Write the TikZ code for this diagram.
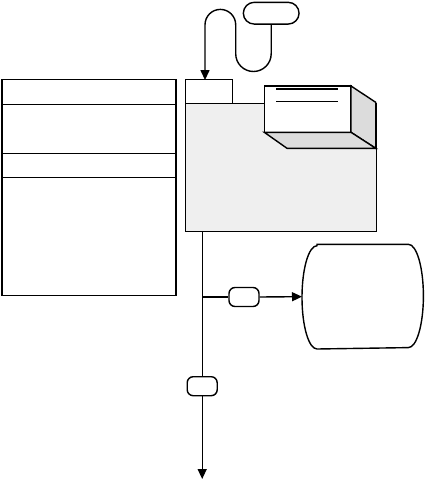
\documentclass[tikz,border=0pt]{standalone}
\usepackage{tikz}
\usetikzlibrary{arrows.meta,calc,positioning}
\definecolor{panel}{HTML}{EFEFEF}
\definecolor{shade}{HTML}{DCDCDC}

\begin{document}
\begin{tikzpicture}[>={Triangle[length=10pt,width=9pt]},x=1pt,y=-1pt,line width=1.4pt,
    frame/.style={draw,inner sep=0pt,outer sep=0pt,anchor=north west},
    tag/.style={draw,fill=white,rounded corners=6pt,inner sep=0pt,minimum width=30pt,minimum height=19pt}]
        \useasboundingbox (0,0) rectangle (426,482);
        % left table
        \node[frame,minimum width=174pt,minimum height=216pt] (table) at (2,79.5) {};
        \foreach \d in {25,74,98}
          \draw ($(table.north west)+(0,\d)$) -- ++(174,0);
        % folder with tab
        \node[frame,fill=panel,minimum width=191pt,minimum height=128pt] (folder) at (185.5,103.7) {};
        \node[frame,fill=white,minimum width=47pt,minimum height=24.4pt] (tab) at (185.5,79.3) {};
        % box in the folder
        \node[frame,fill=white,minimum width=86.7pt,minimum height=46.3pt] (box) at (264.3,86) {};
        \draw[fill=shade] (box.north east) -- ++(24.7,16.3) -- ++(0,46) -- (box.south east) -- cycle;
        \draw[fill=shade] (box.south west) -- (box.south east) -- ++(24.7,16) -- ++(-88.7,0) -- cycle;
        \draw[line width=2.3pt] ($(box.north west)+(12,3.3)$) -- ++(61.7,0);
        \draw ($(box.north west)+(12,15.7)$) -- ++(61.7,0);
        % source and its loop
        \node[draw,rounded corners=10.8pt,minimum width=55.7pt,minimum height=21.7pt,inner sep=0pt] (src) at (271.2,13.2) {};
        \draw[->] (src.south) -- ++(0,29) arc[start angle=0,end angle=180,radius=17.75]
          -- ++(0,-29) arc[start angle=0,end angle=-180,radius=15.35] -- ++(0,55.3);
        % drum
        \node[inner sep=0pt,minimum width=120pt,minimum height=103.3pt] (drum) at (362.7,296.65) {};
        \draw ($(drum.north west)+(15,0)$) -- ($(drum.north east)+(-15,0)$)
          arc[start angle=-90,end angle=90,x radius=15,y radius=51.65]
          -- ($(drum.south west)+(15,0)$)
          arc[start angle=90,end angle=270,x radius=15,y radius=51.65] -- cycle;
        % outflow
        \node[tag] (tagA) at (244,297) {};
        \node[tag] (tagB) at (202.2,386.2) {};
        \coordinate (out) at (202.2,479);
        \draw (folder.south -| tagB) -- (tagB.north);
        \draw[->] (tagB.south) -- (out);
        \draw (tagB |- tagA) -- (tagA.west);
        \draw[->] (tagA.east) -- (drum.west);
      \end{tikzpicture}
\end{document}
